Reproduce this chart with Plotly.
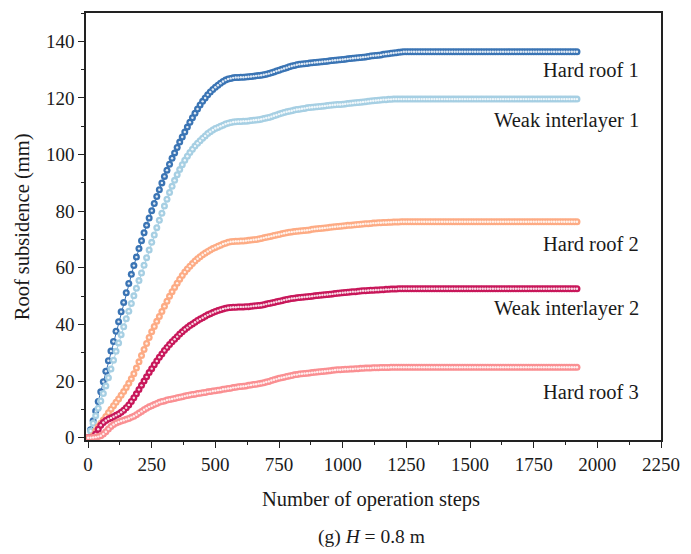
import plotly.graph_objects as go

steps = list(range(0, 1930, 10))

hard_roof_1 = [
    0, 2.8, 6.0, 9.4, 12.8, 16.2, 19.8, 23.5, 27.2, 30.6,
    34.0, 37.6, 41.0, 44.5, 47.8, 51.2, 54.5, 57.7, 60.8, 63.8,
    66.8, 69.6, 72.4, 75.0, 77.6, 80.2, 82.7, 85.2, 87.6, 90.0,
    92.3, 94.5, 96.6, 98.7, 100.6, 102.5, 104.4, 106.2, 108.0, 109.7,
    111.4, 113.0, 114.6, 116.1, 117.5, 118.8, 120.0, 121.1, 122.1, 123.0,
    123.8, 124.5, 125.2, 125.8, 126.3, 126.7, 126.9, 127.1, 127.2, 127.2,
    127.3, 127.3, 127.4, 127.5, 127.6, 127.7, 127.8, 127.9, 128.0, 128.2,
    128.4, 128.6, 128.9, 129.2, 129.5, 129.8, 130.1, 130.4, 130.7, 131.0,
    131.3, 131.5, 131.7, 131.9, 132.0, 132.1, 132.2, 132.3, 132.4, 132.5,
    132.6, 132.7, 132.8, 132.9, 133.0, 133.1, 133.2, 133.3, 133.4, 133.5,
    133.6, 133.7, 133.8, 133.9, 134.0, 134.1, 134.2, 134.3, 134.4, 134.5,
    134.6, 134.8, 134.9, 135.0, 135.1, 135.2, 135.4, 135.5, 135.6, 135.8,
    135.9, 136.0, 136.1, 136.2, 136.3, 136.3, 136.3, 136.3, 136.3, 136.3,
    136.3, 136.3, 136.3, 136.3, 136.3, 136.3, 136.3, 136.3, 136.3, 136.3,
    136.3, 136.3, 136.3, 136.3, 136.3, 136.3, 136.3, 136.3, 136.3, 136.3,
    136.3, 136.3, 136.3, 136.3, 136.3, 136.3, 136.3, 136.3, 136.3, 136.3,
    136.3, 136.3, 136.3, 136.3, 136.3, 136.3, 136.3, 136.3, 136.3, 136.3,
    136.3, 136.3, 136.3, 136.3, 136.3, 136.3, 136.3, 136.3, 136.3, 136.3,
    136.3, 136.3, 136.3, 136.3, 136.3, 136.3, 136.3, 136.3, 136.3, 136.3,
    136.3, 136.3, 136.3,
]

weak_interlayer_1 = [
    0, 2.4, 5.1, 7.8, 10.4, 13.0, 15.6, 18.3, 21.2, 24.3,
    27.4, 30.5, 33.5, 36.4, 39.2, 42.0, 44.7, 47.4, 50.1, 52.8,
    55.5, 58.2, 60.9, 63.6, 66.3, 69.0, 71.6, 74.2, 76.8, 79.3,
    81.8, 84.2, 86.6, 88.8, 90.9, 92.9, 94.7, 96.4, 98.0, 99.4,
    100.7, 101.9, 103.0, 104.0, 104.9, 105.8, 106.6, 107.4, 108.1, 108.7,
    109.2, 109.6, 110.0, 110.4, 110.8, 111.1, 111.3, 111.5, 111.6, 111.7,
    111.7, 111.8, 111.8, 111.9, 112.0, 112.1, 112.2, 112.3, 112.5, 112.7,
    112.9, 113.1, 113.4, 113.7, 114.0, 114.3, 114.6, 114.9, 115.1, 115.3,
    115.5, 115.7, 115.9, 116.0, 116.2, 116.3, 116.5, 116.6, 116.7, 116.8,
    116.9, 117.0, 117.1, 117.2, 117.3, 117.4, 117.5, 117.6, 117.7, 117.7,
    117.8, 117.9, 118.0, 118.1, 118.2, 118.3, 118.4, 118.5, 118.6, 118.7,
    118.8, 118.9, 119.0, 119.1, 119.2, 119.3, 119.4, 119.4, 119.5, 119.5,
    119.6, 119.6, 119.6, 119.6, 119.6, 119.6, 119.6, 119.6, 119.6, 119.6,
    119.6, 119.6, 119.6, 119.6, 119.6, 119.6, 119.6, 119.6, 119.6, 119.6,
    119.6, 119.6, 119.6, 119.6, 119.6, 119.6, 119.6, 119.6, 119.6, 119.6,
    119.6, 119.6, 119.6, 119.6, 119.6, 119.6, 119.6, 119.6, 119.6, 119.6,
    119.6, 119.6, 119.6, 119.6, 119.6, 119.6, 119.6, 119.6, 119.6, 119.6,
    119.6, 119.6, 119.6, 119.6, 119.6, 119.6, 119.6, 119.6, 119.6, 119.6,
    119.6, 119.6, 119.6, 119.6, 119.6, 119.6, 119.6, 119.6, 119.6, 119.6,
    119.6, 119.6, 119.6,
]

hard_roof_2 = [
    0, 0.2, 0.8, 2.5, 3.9, 5.1, 6.3, 7.5, 8.8, 10.1,
    11.3, 12.5, 13.7, 15.0, 16.3, 17.7, 19.2, 20.8, 22.6, 24.6,
    26.8, 29.0, 31.2, 33.3, 35.4, 37.4, 39.3, 41.1, 42.8, 44.6,
    46.4, 48.2, 50.0, 51.6, 53.1, 54.6, 56.0, 57.3, 58.5, 59.6,
    60.6, 61.5, 62.4, 63.2, 63.9, 64.6, 65.2, 65.8, 66.3, 66.8,
    67.2, 67.6, 68.0, 68.4, 68.7, 69.0, 69.2, 69.3, 69.4, 69.4,
    69.5, 69.5, 69.6, 69.7, 69.8, 69.9, 70.0, 70.2, 70.4, 70.6,
    70.8, 71.0, 71.2, 71.4, 71.6, 71.8, 72.0, 72.2, 72.4, 72.6,
    72.7, 72.8, 72.9, 73.0, 73.1, 73.2, 73.3, 73.4, 73.6, 73.7,
    73.8, 73.9, 74.0, 74.1, 74.2, 74.3, 74.4, 74.5, 74.6, 74.7,
    74.8, 74.9, 75.0, 75.0, 75.1, 75.2, 75.3, 75.4, 75.5, 75.6,
    75.6, 75.7, 75.8, 75.8, 75.9, 75.9, 76.0, 76.0, 76.1, 76.1,
    76.2, 76.2, 76.2, 76.3, 76.3, 76.3, 76.3, 76.3, 76.3, 76.3,
    76.3, 76.3, 76.3, 76.3, 76.3, 76.3, 76.3, 76.3, 76.3, 76.3,
    76.3, 76.3, 76.3, 76.3, 76.3, 76.3, 76.3, 76.3, 76.3, 76.3,
    76.3, 76.3, 76.3, 76.3, 76.3, 76.3, 76.3, 76.3, 76.3, 76.3,
    76.3, 76.3, 76.3, 76.3, 76.3, 76.3, 76.3, 76.3, 76.3, 76.3,
    76.3, 76.3, 76.3, 76.3, 76.3, 76.3, 76.3, 76.3, 76.3, 76.3,
    76.3, 76.3, 76.3, 76.3, 76.3, 76.3, 76.3, 76.3, 76.3, 76.3,
    76.3, 76.3, 76.3,
]

weak_interlayer_2 = [
    0, 0, 0.3, 1.3, 3.0, 4.4, 5.4, 6.1, 6.6, 7.0,
    7.4, 7.9, 8.4, 9.0, 9.7, 10.6, 11.6, 12.8, 14.1, 15.5,
    17.0, 18.5, 20.0, 21.5, 23.0, 24.4, 25.8, 27.1, 28.4, 29.6,
    30.8, 31.9, 32.9, 33.9, 34.8, 35.7, 36.6, 37.4, 38.2, 38.9,
    39.6, 40.2, 40.8, 41.4, 41.9, 42.4, 42.9, 43.4, 43.8, 44.2,
    44.6, 44.9, 45.2, 45.5, 45.7, 45.9, 46.0, 46.1, 46.1, 46.2,
    46.2, 46.2, 46.3, 46.3, 46.4, 46.5, 46.6, 46.7, 46.8, 47.0,
    47.2, 47.4, 47.6, 47.8, 48.0, 48.2, 48.4, 48.6, 48.8, 49.0,
    49.2, 49.3, 49.4, 49.5, 49.6, 49.7, 49.8, 49.9, 50.0, 50.1,
    50.2, 50.3, 50.4, 50.5, 50.6, 50.7, 50.8, 50.9, 51.0, 51.1,
    51.2, 51.3, 51.4, 51.5, 51.6, 51.6, 51.7, 51.8, 51.9, 51.9,
    52.0, 52.1, 52.1, 52.2, 52.2, 52.3, 52.3, 52.4, 52.4, 52.5,
    52.5, 52.5, 52.6, 52.6, 52.6, 52.6, 52.6, 52.6, 52.6, 52.6,
    52.6, 52.6, 52.6, 52.6, 52.6, 52.6, 52.6, 52.6, 52.6, 52.6,
    52.6, 52.6, 52.6, 52.6, 52.6, 52.6, 52.6, 52.6, 52.6, 52.6,
    52.6, 52.6, 52.6, 52.6, 52.6, 52.6, 52.6, 52.6, 52.6, 52.6,
    52.6, 52.6, 52.6, 52.6, 52.6, 52.6, 52.6, 52.6, 52.6, 52.6,
    52.6, 52.6, 52.6, 52.6, 52.6, 52.6, 52.6, 52.6, 52.6, 52.6,
    52.6, 52.6, 52.6, 52.6, 52.6, 52.6, 52.6, 52.6, 52.6, 52.6,
    52.6, 52.6, 52.6,
]

hard_roof_3 = [
    0, 0, 0.1, 0.2, 0.4, 0.7, 1.3, 2.1, 3.1, 4.0,
    4.7, 5.2, 5.6, 5.9, 6.2, 6.5, 6.8, 7.2, 7.6, 8.1,
    8.7, 9.3, 9.9, 10.4, 10.9, 11.3, 11.7, 12.1, 12.5, 12.8,
    13.0, 13.3, 13.5, 13.7, 13.9, 14.1, 14.3, 14.5, 14.7, 14.9,
    15.1, 15.3, 15.4, 15.6, 15.7, 15.9, 16.0, 16.2, 16.3, 16.5,
    16.6, 16.8, 16.9, 17.1, 17.2, 17.4, 17.5, 17.7, 17.8, 18.0,
    18.1, 18.2, 18.3, 18.5, 18.6, 18.8, 18.9, 19.1, 19.2, 19.4,
    19.7, 19.9, 20.2, 20.5, 20.7, 21.0, 21.2, 21.4, 21.6, 21.8,
    22.0, 22.2, 22.3, 22.5, 22.6, 22.7, 22.8, 22.9, 23.0, 23.1,
    23.2, 23.3, 23.4, 23.5, 23.6, 23.7, 23.8, 23.9, 24.0, 24.0,
    24.1, 24.2, 24.2, 24.3, 24.3, 24.4, 24.4, 24.5, 24.5, 24.6,
    24.6, 24.6, 24.7, 24.7, 24.7, 24.8, 24.8, 24.8, 24.8, 24.9,
    24.9, 24.9, 24.9, 24.9, 24.9, 24.9, 24.9, 24.9, 24.9, 24.9,
    24.9, 24.9, 24.9, 24.9, 24.9, 24.9, 24.9, 24.9, 24.9, 24.9,
    24.9, 24.9, 24.9, 24.9, 24.9, 24.9, 24.9, 24.9, 24.9, 24.9,
    24.9, 24.9, 24.9, 24.9, 24.9, 24.9, 24.9, 24.9, 24.9, 24.9,
    24.9, 24.9, 24.9, 24.9, 24.9, 24.9, 24.9, 24.9, 24.9, 24.9,
    24.9, 24.9, 24.9, 24.9, 24.9, 24.9, 24.9, 24.9, 24.9, 24.9,
    24.9, 24.9, 24.9, 24.9, 24.9, 24.9, 24.9, 24.9, 24.9, 24.9,
    24.9, 24.9, 24.9,
]

series_names = ["Hard roof 1", "Weak interlayer 1", "Hard roof 2",
                "Weak interlayer 2", "Hard roof 3"]
series_values = [hard_roof_1, weak_interlayer_1, hard_roof_2,
                 weak_interlayer_2, hard_roof_3]
colors = ["#3a74b4", "#a6cfe3", "#fdab84", "#c8175a", "#fa8f92"]
label_y = [129.9, 112.1, 68.4, 45.5, 16.0]

FONT = "Liberation Serif"
TXT = "#1a1a1a"

fig = go.Figure()
for name, vals, c in zip(series_names, series_values, colors):
    fig.add_trace(go.Scatter(
        x=steps, y=vals, mode="lines+markers", name=name,
        line=dict(color=c, width=1),
        marker=dict(symbol="circle", size=7, color=c, line=dict(width=0)),
        showlegend=False,
    ))
    fig.add_trace(go.Scatter(
        x=steps, y=vals, mode="markers", name=name + " highlight",
        marker=dict(symbol="circle", size=2.4, color="rgba(255,255,255,0.85)",
                    line=dict(width=0)),
        showlegend=False, hoverinfo="skip",
    ))

for name, yv in zip(series_names, label_y):
    fig.add_annotation(x=2170, y=yv, xref="x", yref="y", text=name,
                       showarrow=False, xanchor="right", yanchor="middle",
                       font=dict(family=FONT, size=20.5, color=TXT))

fig.add_annotation(x=0.496, y=-0.140, xref="paper", yref="paper",
                   text="Number of operation steps", showarrow=False,
                   xanchor="center", yanchor="middle",
                   font=dict(family=FONT, size=20.5, color=TXT))
fig.add_annotation(x=0.496, y=-0.228, xref="paper", yref="paper",
                   text="(g) <i>H</i> = 0.8 m", showarrow=False,
                   xanchor="center", yanchor="middle",
                   font=dict(family=FONT, size=19.5, color=TXT))
fig.add_annotation(x=-0.11, y=0.5, xref="paper", yref="paper",
                   text="Roof subsidence (mm)", showarrow=False, textangle=-90,
                   xanchor="center", yanchor="middle",
                   font=dict(family=FONT, size=20.5, color=TXT))

axis_common = dict(
    showline=True, linecolor="#222", linewidth=1.5, mirror=True,
    ticks="outside", ticklen=6, tickwidth=1.2, tickcolor="#222",
    showgrid=False, zeroline=False,
    tickfont=dict(family=FONT, size=19, color=TXT),
)

fig.update_xaxes(range=[-8, 2250], tickvals=[0, 250, 500, 750, 1000, 1250, 1500, 1750, 2000, 2250],
                 minor=dict(ticks="outside", ticklen=3, tickcolor="#222", dtick=125, tick0=0),
                 **axis_common)
fig.update_yaxes(range=[-0.8, 150], tickvals=[0, 20, 40, 60, 80, 100, 120, 140],
                 minor=dict(ticks="outside", ticklen=3, tickcolor="#222", dtick=10, tick0=0),
                 **axis_common)

fig.update_layout(
    width=691, height=554,
    margin=dict(l=86, r=24, t=11, b=114),
    plot_bgcolor="white", paper_bgcolor="white",
)

fig.write_html("out.html")
